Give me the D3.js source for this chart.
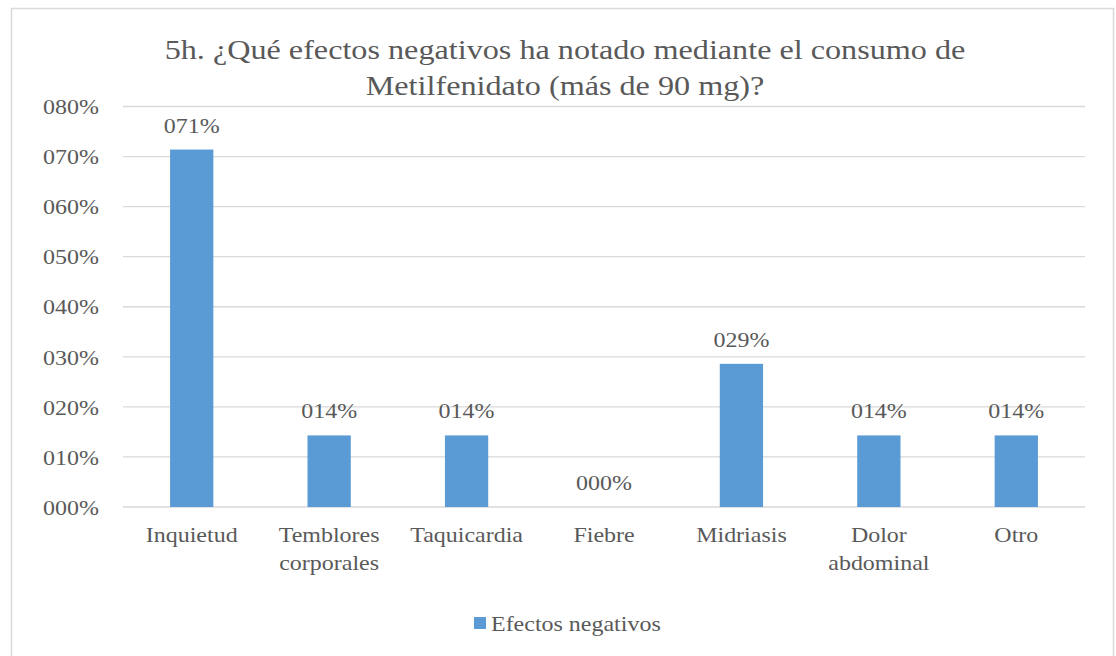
<!DOCTYPE html>
<html>
<head>
<meta charset="utf-8">
<script src="https://cdn.jsdelivr.net/npm/d3@7"></script>
<style>
  body { margin: 0; background: #fff; }
</style>
</head>
<body>
<svg id="chart" width="1116" height="656"></svg>
<script>
const titleLines = ['5h. ¿Qué efectos negativos ha notado mediante el consumo de', 'Metilfenidato (más de 90 mg)?'];
const categories = [['Inquietud'], ['Temblores', 'corporales'], ['Taquicardia'], ['Fiebre'], ['Midriasis'], ['Dolor', 'abdominal'], ['Otro']];
const values = [0.714, 0.143, 0.143, 0, 0.286, 0.143, 0.143];
const yTicks = [0, 0.1, 0.2, 0.3, 0.4, 0.5, 0.6, 0.7, 0.8];
const seriesName = 'Efectos negativos';

let barColor = '#5B9BD5';
let gridColor = '#D9D9D9';
let textColor = '#595959';
let fontFam = 'Liberation Serif, serif';
let plotLeft = 123, plotRight = 1085, plotTop = 106.5, plotBottom = 507;
// the source picture is a bit wider than tall, text is stretched to match
let sx = 1.09, sxTitle = 1.15;

const fmt = (v) => {
  let n = Math.round(v * 100);
  return String(n).padStart(3, '0') + '%';
};

const place = (px, py, s) => 'translate(' + px + ',' + py + ') scale(' + s + ',1)';

const svg = d3.select('#chart')
  .attr('font-family', fontFam);

// outer frame
svg.append('rect')
  .attr('x', 11.5).attr('y', 8.5)
  .attr('width', 1102).attr('height', 660)
  .attr('fill', 'none')
  .attr('stroke', '#D9D9D9')
  .attr('stroke-width', 1.5);

let x = d3.scaleBand()
  .domain(d3.range(categories.length))
  .range([plotLeft, plotRight])
  .paddingInner(0.685)
  .paddingOuter(0.3425);

let y = d3.scaleLinear()
  .domain([0, 0.8])
  .range([plotBottom, plotTop]);

// gridlines
svg.append('g')
  .selectAll('line')
  .data(yTicks)
  .enter()
  .append('line')
  .attr('x1', plotLeft).attr('x2', plotRight)
  .attr('y1', d => y(d)).attr('y2', d => y(d))
  .attr('stroke', gridColor)
  .attr('stroke-width', 1.3);

// y tick labels
svg.append('g')
  .selectAll('text')
  .data(yTicks)
  .enter()
  .append('text')
  .attr('transform', d => place(99, y(d), sx))
  .attr('dy', '0.35em')
  .attr('text-anchor', 'end')
  .attr('fill', textColor)
  .attr('font-family', fontFam)
  .attr('font-size', 22)
  .text(d => fmt(d));

// bars
svg.append('g')
  .selectAll('rect')
  .data(values)
  .enter()
  .append('rect')
  .attr('x', (d, i) => x(i))
  .attr('width', x.bandwidth())
  .attr('y', d => y(d))
  .attr('height', d => y(0) - y(d))
  .attr('fill', barColor);

// data labels
svg.append('g')
  .selectAll('text')
  .data(values)
  .enter()
  .append('text')
  .attr('transform', (d, i) => place(x(i) + x.bandwidth() / 2, y(d) - 17, sx))
  .attr('text-anchor', 'middle')
  .attr('fill', textColor)
  .attr('font-family', fontFam)
  .attr('font-size', 22)
  .text(d => fmt(d));

// category labels
let catG = svg.append('g');
categories.forEach((lines, i) => {
  let t = catG.append('text')
    .attr('transform', place(x(i) + x.bandwidth() / 2, 542, sx))
    .attr('text-anchor', 'middle')
    .attr('fill', textColor)
    .attr('font-family', fontFam)
    .attr('font-size', 22);
  lines.forEach((s, j) => {
    t.append('tspan')
      .attr('x', 0)
      .attr('y', j * 28.5)
      .text(s);
  });
});

// title
titleLines.forEach((s, j) => {
  svg.append('text')
    .attr('transform', place(565, 59 + j * 36, sxTitle))
    .attr('text-anchor', 'middle')
    .attr('fill', textColor)
    .attr('font-family', fontFam)
    .attr('font-size', 28)
    .text(s);
});

// legend
let legend = svg.append('g');
legend.append('rect')
  .attr('x', 474).attr('y', 617)
  .attr('width', 12).attr('height', 12)
  .attr('fill', barColor);
legend.append('text')
  .attr('transform', place(491, 631, sx))
  .attr('fill', textColor)
  .attr('font-family', fontFam)
  .attr('font-size', 22)
  .text(seriesName);
</script>
</body>
</html>
